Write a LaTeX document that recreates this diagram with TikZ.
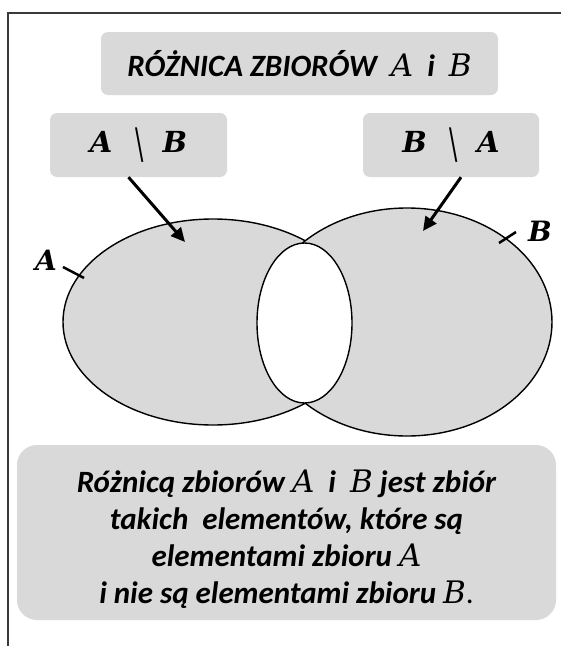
\documentclass[tikz,border=0pt]{standalone}
\usepackage{fontspec}
\setmainfont{Carlito}
\newfontfamily\letterfont{DejaVu Serif}
\usetikzlibrary{arrows.meta,positioning}
\definecolor{panel}{HTML}{D9D9D9}
\definecolor{frameline}{HTML}{3A3A3A}
% set letters in a serif italic, as in the formula font of the original
\newcommand{\letA}{{\letterfont\itshape\mdseries A}}
\newcommand{\letB}{{\letterfont\itshape\mdseries B}}
\newcommand{\boldA}{{\letterfont\itshape\bfseries A}}
\newcommand{\boldB}{{\letterfont\itshape\bfseries B}}
\newcommand{\minus}{{\letterfont\upshape\mdseries\raisebox{-6pt}{\scalebox{0.85}[1.45]{\textbackslash}}}}

\begin{document}
\begin{tikzpicture}[
  x=1pt, y=-1pt,
  font=\fontsize{31}{37}\selectfont\bfseries\itshape,
  panelbox/.style={fill=panel, rounded corners=7pt, align=center, inner sep=0pt},
  pointer/.style={-{Triangle[length=14pt,width=13pt]}, line width=3pt},
  setline/.style={draw=black, line width=1.4pt},
  tickmark/.style={line width=2.5pt},
  setlabel/.style={font=\fontsize{28}{28}\selectfont\letterfont\bfseries\itshape}
]
  \useasboundingbox (0,0) rectangle (561,646);
  % outer frame, cut by the page on the right and at the bottom
  \draw[frameline, line width=2pt] (8,646) -- (8,13) -- (561,13);

  \node[panelbox, minimum width=397pt, minimum height=63pt] (title) at (299.5,63.5)
    {RÓŻNICA ZBIORÓW\ \ \letA\ \ i\ \ \letB};
  \node[panelbox, minimum width=177pt, minimum height=64pt,
    font=\fontsize{29}{29}\selectfont] (diffAB) at (138.5,145)
    {\boldA\hspace{23pt}\minus\hspace{19pt}\boldB};
  \node[panelbox, minimum width=176pt, minimum height=64pt,
    font=\fontsize{29}{29}\selectfont] (diffBA) at (451,145)
    {\boldB\hspace{23pt}\minus\hspace{19pt}\boldA};

  % the two sets, their common part left blank
  \path[setline, fill=panel] (213,322) ellipse [x radius=150, y radius=103];
  \path[setline, fill=panel] (407,322) ellipse [x radius=145, y radius=114];
  \path[setline, fill=white] (304.5,323) ellipse [x radius=47.5, y radius=80];

  \coordinate (inA) at (185,242);
  \coordinate (inB) at (423,231);
  \draw[pointer] ([xshift=-10pt]diffAB.south) -- (inA);
  \draw[pointer] ([xshift=10pt]diffBA.south) -- (inB);

  \node[setlabel] (labA) at (46,260) {A};
  \node[setlabel] (labB) at (540,231) {B};
  \coordinate (edgeA) at (63,267);
  \coordinate (edgeB) at (499,243);
  \draw[tickmark] (edgeA) -- ++(21,11);
  \draw[tickmark] (edgeB) -- ++(17,-11);

  \node[panelbox, rounded corners=20pt, minimum width=539pt, minimum height=175pt]
    (rule) at (286.5,532.5) {};
  \node[align=center] (ruletext) at ([yshift=-7pt]rule.center)
    {Różnicą zbiorów \letA\ \ i\ \ \letB\ jest zbiór\\
     takich\ \ elementów, które są\\
     elementami zbioru \letA\\
     i nie są elementami zbioru \letB{\mdseries\upshape .}};
\end{tikzpicture}
\end{document}
